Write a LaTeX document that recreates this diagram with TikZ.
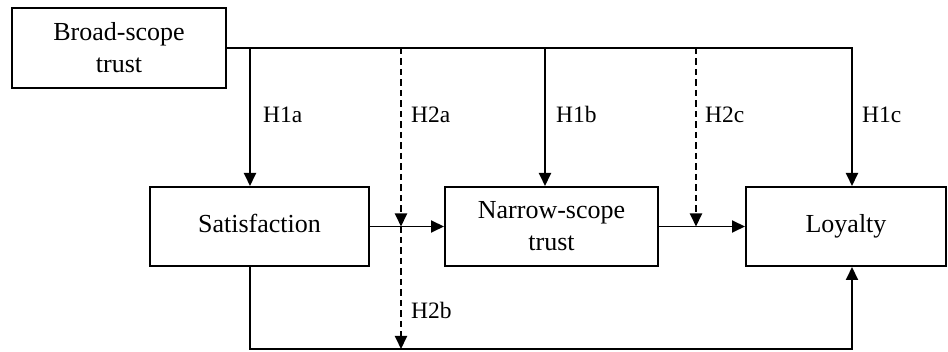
\documentclass[tikz,border=0pt]{standalone}
\usepackage{fontspec}
\setmainfont{Liberation Serif}
\usetikzlibrary{arrows.meta}
\begin{document}
\begin{tikzpicture}[x=1pt,y=-1pt,
  boxstyle/.style={draw, line width=2pt, rectangle, inner sep=0pt, align=center,
    font=\fontsize{26}{32}\selectfont},
  lab/.style={anchor=base west, inner sep=0pt, font=\fontsize{23.5}{28}\selectfont},
  conn/.style={line width=1.9pt},
  arr/.style={conn, -{Triangle[length=13pt,width=12pt]}},
  dsh/.style={dash pattern=on 6.5pt off 4pt}]
\useasboundingbox (0,0) rectangle (948,352);
\node[boxstyle, minimum width=214pt, minimum height=80pt] (broad) at (119,48) {Broad-scope\\trust};
\node[boxstyle, minimum width=219pt, minimum height=79pt, text height=18pt, text depth=6pt] (sat) at (259.5,226.5) {Satisfaction};
\node[boxstyle, minimum width=213pt, minimum height=79pt] (narrow) at (551.5,226.5) {Narrow-scope\\trust};
\node[boxstyle, minimum width=200pt, minimum height=79pt] (loy) at (846,226.5) {Loyalty};
% junction coordinates on the top line
\coordinate (ja) at (250,48);
\coordinate (jb) at (401,48);
\coordinate (jc) at (545,48);
\coordinate (jd) at (696,48);
\coordinate (je) at (852,48);
% junctions on the middle arrows
\coordinate (ma) at (401,226.5);
\coordinate (mb) at (696,226.5);
% bottom line
\coordinate (ba) at (250,349);
\coordinate (bb) at (401,349);
\coordinate (bc) at (852,349);
% top line and H1c
\draw[arr] (broad.east) -- (je) -- (je |- loy.north);
\draw[arr] (ja) -- (ja |- sat.north);
\draw[arr] (jc) -- (jc |- narrow.north);
% middle arrows
\draw[arr] (sat.east |- ma) -- (narrow.west |- ma);
\draw[arr] (narrow.east |- mb) -- (loy.west |- mb);
% bottom path
\draw[arr] (ba |- sat.south) -- (ba) -- (bc) -- (bc |- loy.south);
% dashed moderators
\draw[arr, dsh] (jb) -- (ma);
\draw[arr, dsh] (ma) -- (bb);
\draw[arr, dsh] (jd) -- (mb);
% labels
\node[lab] (l1a) at (263,123) {H1a};
\node[lab] (l2a) at (411,123) {H2a};
\node[lab] (l1b) at (556,123) {H1b};
\node[lab] (l2c) at (705,123) {H2c};
\node[lab] (l1c) at (862,123) {H1c};
\node[lab] (l2b) at (411,319) {H2b};
\end{tikzpicture}
\end{document}
